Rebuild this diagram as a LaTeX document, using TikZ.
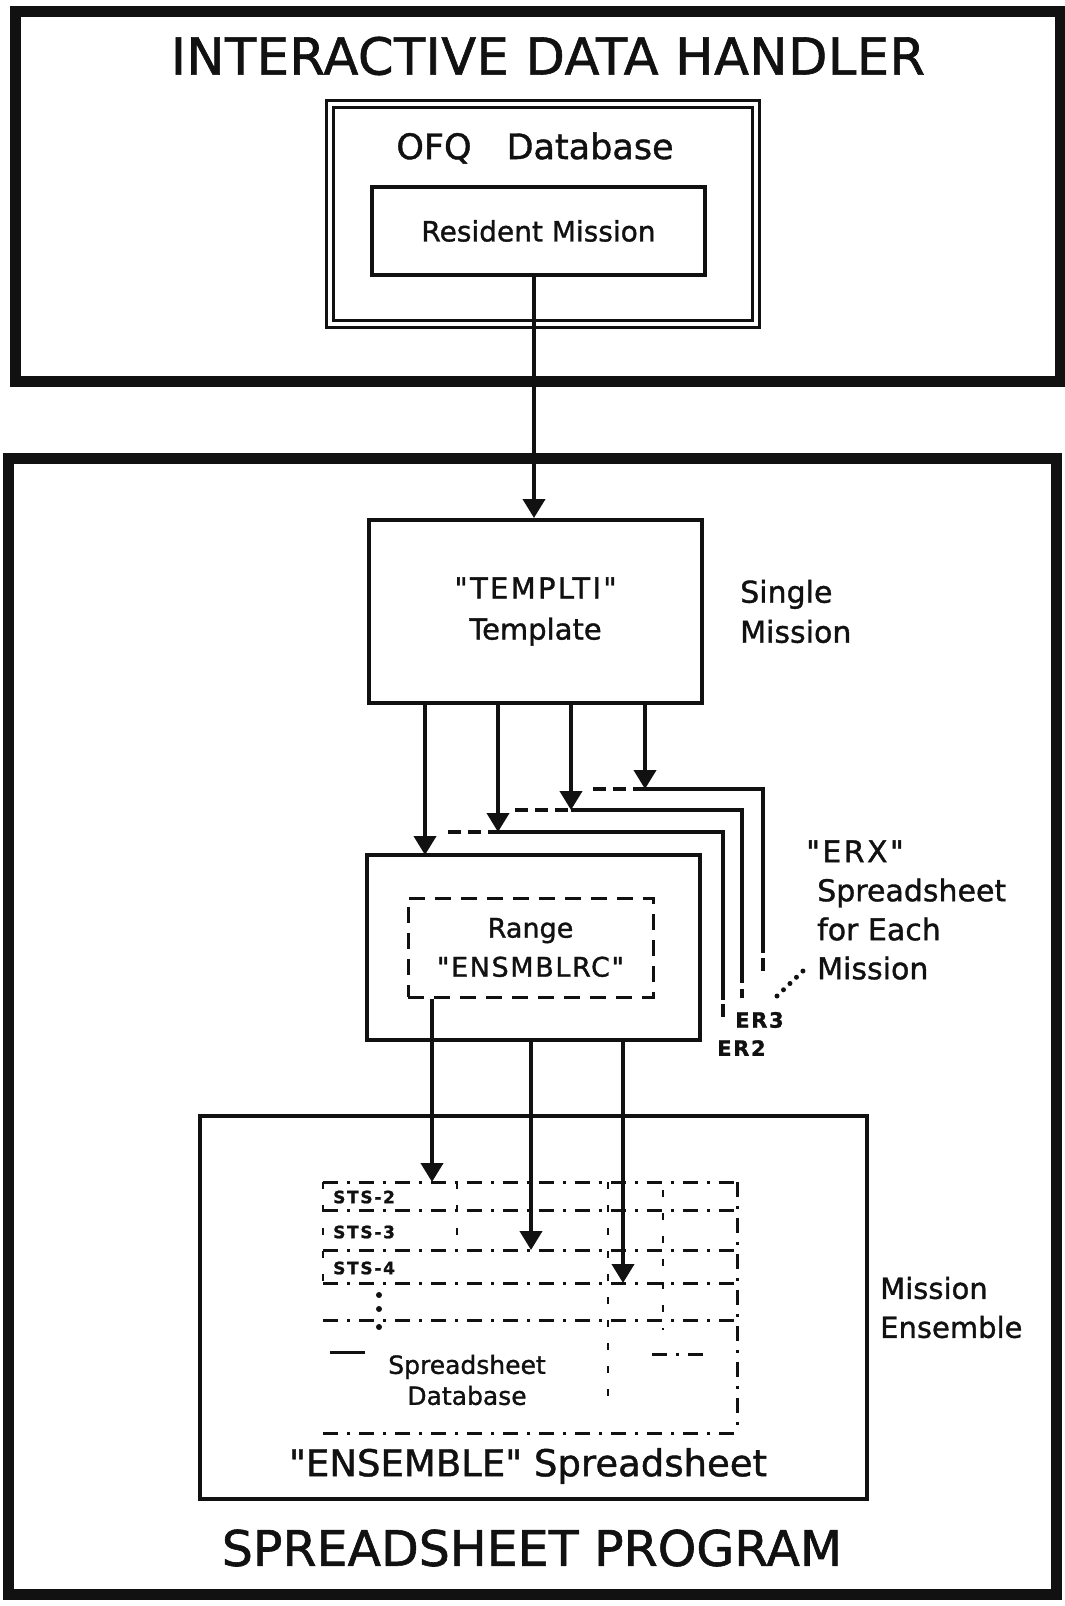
\documentclass[tikz,border=0pt]{standalone}
\usepackage{fontspec}
\defaultfontfeatures[\rmfamily]{}
\setmainfont{DejaVu Sans}[FakeBold=1.2]
\usetikzlibrary{arrows.meta,positioning}
\definecolor{Ink}{HTML}{111111}

\begin{document}
\begin{tikzpicture}[x=1pt, y=-1pt,
  frame/.style={draw=Ink, line width=11pt, inner sep=0pt},
  box/.style={draw=Ink, line width=4pt, inner sep=0pt, align=center, text=Ink},
  lbl/.style={inner sep=0pt, align=left, text=Ink},
  arr/.style={draw=Ink, line width=4pt, -{Triangle[width=22pt,length=19pt]}},
  sheet/.style={draw=Ink, line width=3.5pt},
  hid/.style={sheet, dash pattern=on 13pt off 7pt},
  grid/.style={draw=Ink, line width=3pt, dash pattern=on 15pt off 9pt on 3pt off 9pt},
  sparse/.style={draw=Ink, line width=2.5pt, dash pattern=on 7pt off 16pt},
  dots/.style={draw=Ink, line width=5pt, line cap=round, dash pattern=on 0pt off 9pt}
]
  \useasboundingbox (0,0) rectangle (1065,1606);

  \node[frame, minimum width=1045pt, minimum height=370pt] (idh) at (537.5,196) {};
  \node[lbl, font=\fontsize{51}{60}\selectfont] (idhtitle) at (548,56)
    {\addfontfeature{LetterSpace=1}INTERACTIVE DATA HANDLER};
  \node[box, double, double distance=4pt, line width=3pt,
        minimum width=426pt, minimum height=220pt] (ofq) at (542.5,213.5) {};
  \node[lbl, font=\fontsize{35}{42}\selectfont] (ofqlbl) at (535,148) {OFQ\quad Database};
  \node[box, minimum width=333pt, minimum height=88pt,
        font=\fontsize{28}{34}\selectfont] (res) at (538.5,231) {Resident Mission};

  \node[frame, minimum width=1048pt, minimum height=1136pt] (sp) at (532,1026) {};
  \node[box, minimum width=333pt, minimum height=183pt,
        font=\fontsize{29}{41}\selectfont] (templt) at (535.5,611.5)
    {{\addfontfeature{LetterSpace=8}"TEMPLTI"}\\Template};
  \node[lbl, font=\fontsize{30}{40}\selectfont, right=36pt of templt] (single) {Single\\Mission};
  \coordinate (a0) at (534,520);
  \draw[arr] (res.south -| a0) -- (a0 |- templt.north);

  \coordinate (t1) at (425,855);
  \coordinate (t2) at (498,832);
  \coordinate (t3) at (571,810);
  \coordinate (t4) at (645,789);
  \draw[hid] (448,832) -- (t2);
  \draw[sheet] (t2) -- (723,832) -- (723,1000);
  \draw[hid] (723,1004) -- (723,1018);
  \draw[hid] (515,810) -- (t3);
  \draw[sheet] (t3) -- (742,810) -- (742,983);
  \draw[hid] (742,989) -- (742,998);
  \draw[hid] (593,789) -- (t4);
  \draw[sheet] (t4) -- (763,789) -- (763,953);
  \draw[hid] (763,958) -- (763,978);

  \node[box, minimum width=333pt, minimum height=185pt] (er1) at (533.5,947.5) {};
  \node[box, line width=3pt, dash pattern=on 16pt off 10pt, minimum width=245pt, minimum height=99pt,
        font=\fontsize{27}{39}\selectfont] (range) at (530.5,947.5)
    {Range\\{\addfontfeature{LetterSpace=6}"ENSMBLRC"}};
  \foreach \i in {1,...,4}
    \draw[arr] (templt.south -| t\i) -- (t\i);

  \node[lbl, anchor=west, font=\bfseries\fontsize{21}{24}\selectfont] (er3) at (735,1020) {\addfontfeature{LetterSpace=8}ER3};
  \node[lbl, anchor=west, font=\bfseries\fontsize{21}{24}\selectfont] (er2) at (717,1048) {\addfontfeature{LetterSpace=8}ER2};
  \node[lbl, anchor=west, font=\fontsize{30}{39}\selectfont] (erx) at (817,910)
    {\hspace*{-11pt}{\addfontfeature{LetterSpace=8}"ERX"}\\Spreadsheet\\for Each\\Mission};
  \draw[dots] (777,996) -- (804,970);

  \node[box, minimum width=667pt, minimum height=383pt] (ens) at (533.5,1307.5) {};
  \node[lbl, font=\fontsize{29}{39}\selectfont, right=11pt of ens] (mens) {Mission\\Ensemble};

  \foreach \y in {1182,1210,1250,1283,1320,1433}
    \draw[grid] (323,\y) -- (737,\y);
  \draw[grid] (737,1182) -- (737,1433);
  \draw[sparse] (323,1182) -- (323,1283);
  \draw[sparse] (457,1182) -- (457,1250);
  \draw[sparse] (608,1182) -- (608,1400);
  \draw[sparse] (663,1190) -- (663,1330);
  \node[lbl, anchor=west, font=\bfseries\fontsize{17}{18}\selectfont] (sts2) at (333,1197) {\addfontfeature{LetterSpace=10}STS-2};
  \node[lbl, anchor=west, font=\bfseries\fontsize{17}{18}\selectfont] (sts3) at (333,1232) {\addfontfeature{LetterSpace=10}STS-3};
  \node[lbl, anchor=west, font=\bfseries\fontsize{17}{18}\selectfont] (sts4) at (333,1268) {\addfontfeature{LetterSpace=10}STS-4};
  \foreach \y in {1295,1309,1327}
    \fill[Ink] (379,\y) circle (3pt);
  \draw[Ink, line width=3pt] (330,1352) -- (365,1352);
  \draw[grid] (652,1354) -- (705,1354);
  \node[lbl, align=center, font=\fontsize{25}{31}\selectfont] (ssdb) at (467,1380) {Spreadsheet\\Database};

  \coordinate (g1) at (432,1182);
  \coordinate (g2) at (531,1250);
  \coordinate (g3) at (623,1283);
  \draw[arr] (range.south -| g1) -- (g1);
  \draw[arr] (er1.south -| g2) -- (g2);
  \draw[arr] (er1.south -| g3) -- (g3);

  \node[lbl, font=\fontsize{37}{44}\selectfont] (enslbl) at (528,1466) {"ENSEMBLE" Spreadsheet};
  \node[lbl, font=\fontsize{49}{58}\selectfont] (sptitle) at (532,1548) {SPREADSHEET PROGRAM};
\end{tikzpicture}
\end{document}
